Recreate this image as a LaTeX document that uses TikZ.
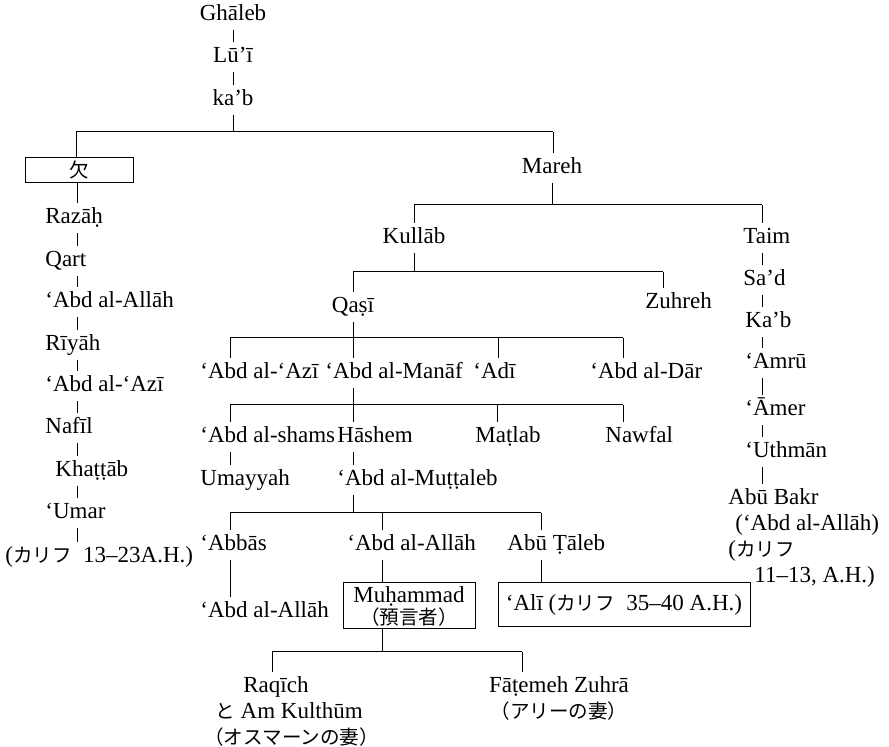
\documentclass[tikz,border=0pt]{standalone}
\usepackage{fontspec}
\setmainfont{Liberation Serif}
\newfontfamily\jpfont{Noto Sans CJK JP}[Scale=0.85]

\begin{document}
\begin{tikzpicture}[x=0.5pt,y=-0.5pt,font=\fontsize{11.5}{13}\selectfont]

\tikzset{person/.style = {inner sep=2pt,text height=8pt,text depth=2.5pt}}
\tikzset{block/.style = {inner sep=2pt,align=left}}
\tikzset{frame/.style = {draw,line width=0.5pt,inner sep=1pt,align=center}}
\tikzset{kin/.style = {line width=0.5pt}}

\useasboundingbox (0,0) rectangle (889,747);

% top of the line
\node[person] (ghaleb) at (233,15) {Ghāleb};
\node[person] (lui) at (233,57) {Lū’ī};
\node[person] (kab) at (233,100) {ka’b};

\draw[kin] (ghaleb) -- (lui);
\draw[kin] (lui) -- (kab);

\coordinate (b1l) at (76,132);
\coordinate (b1r) at (553,132);
\draw[kin] (kab) -- (kab |- b1l);
\draw[kin] (b1l) -- (b1r);

% left branch
\node[frame,minimum width=54pt,minimum height=12.5pt] (qi) at (79,170) {\jpfont 欠};
\coordinate (lc) at (77,0);
\node[person,anchor=west] (razah) at (41,218) {Razāḥ};
\node[person,anchor=west] (qart) at (41,261) {Qart};
\node[person,anchor=west] (abdallah1) at (41,302) {‘Abd al-Allāh};
\node[person,anchor=west] (riyah) at (41,345) {Rīyāh};
\node[person,anchor=west] (abdazi1) at (41,386) {‘Abd al-‘Azī};
\node[person,anchor=west] (nafil) at (41,428) {Nafīl};
\node[person,anchor=west] (khattab) at (51,471) {Khaṭṭāb};
\node[person,anchor=west] (umar) at (41,513) {‘Umar};
\node[person,anchor=west] (caliph1) at (1,557) {({\jpfont カリフ}\enspace 13–23A.H.)};

\draw[kin] (b1l) -- (qi.north -| b1l);
\draw[kin] (qi.south -| lc) -- (razah.north -| lc);
\draw[kin] (razah.south -| lc) -- (qart.north -| lc);
\draw[kin] (qart.south -| lc) -- (abdallah1.north -| lc);
\draw[kin] (abdallah1.south -| lc) -- (riyah.north -| lc);
\draw[kin] (riyah.south -| lc) -- (abdazi1.north -| lc);
\draw[kin] (abdazi1.south -| lc) -- (nafil.north -| lc);
\draw[kin] (nafil.south -| lc) -- (khattab.north -| lc);
\draw[kin] (khattab.south -| lc) -- (umar.north -| lc);
\draw[kin] (umar.south -| lc) -- (caliph1.north -| lc);

% Mareh and his sons
\node[person] (mareh) at (552,168) {Mareh};
\draw[kin] (b1r) -- (mareh.north -| b1r);

\coordinate (b2l) at (414,205);
\coordinate (b2r) at (762,205);
\draw[kin] (mareh) -- (mareh |- b2l);
\draw[kin] (b2l) -- (b2r);

\node[person] (kullab) at (414,238) {Kullāb};
\draw[kin] (b2l) -- (kullab);

% right branch
\coordinate (rc) at (762,0);
\node[person,anchor=west] (taim) at (739,238) {Taim};
\node[person,anchor=west] (sad) at (739,280) {Sa’d};
\node[person,anchor=west] (kab2) at (741,322) {Ka’b};
\node[person,anchor=west] (amru) at (741,363) {‘Amrū};
\node[person,anchor=west] (amer) at (741,410) {‘Āmer};
\node[person,anchor=west] (uthman) at (741,452) {‘Uthmān};
\node[block,anchor=north west] (abubakr) at (724,484)
  {Abū Bakr\\\hspace*{3.5pt}(‘Abd al-Allāh)\\({\jpfont カリフ}\\\hspace*{13pt}11–13, A.H.)};

\draw[kin] (b2r) -- (taim.north -| rc);
\draw[kin] (taim.south -| rc) -- (sad.north -| rc);
\draw[kin] (sad.south -| rc) -- (kab2.north -| rc);
\draw[kin] (kab2.south -| rc) -- (amru.north -| rc);
\draw[kin] (amru.south -| rc) -- (amer.north -| rc);
\draw[kin] (amer.south -| rc) -- (uthman.north -| rc);
\draw[kin] (uthman.south -| rc) -- (abubakr.north -| rc);

% Kullab
\coordinate (b3l) at (353,272);
\coordinate (b3r) at (663,272);
\draw[kin] (kullab) -- (kullab |- b3l);
\draw[kin] (b3l) -- (b3r);

\node[person] (qasi) at (353,307) {Qaṣī};
\node[person,anchor=west] (zuhreh) at (641,303) {Zuhreh};
\draw[kin] (b3l) -- (qasi);
\draw[kin] (b3r) -- (zuhreh.north -| b3r);

% Qasi
\coordinate (b4l) at (230,338);
\coordinate (b4r) at (623,338);
\coordinate (t-adi) at (498,338);
\draw[kin] (b4l) -- (b4r);

\node[person,anchor=west] (abdazi2) at (196,373) {‘Abd al-‘Azī};
\node[person,anchor=west] (abdmanaf) at (321,373) {‘Abd al-Manāf};
\node[person,anchor=west] (adi) at (469,373) {‘Adī};
\node[person,anchor=west] (abddar) at (586,373) {‘Abd al-Dār};

\draw[kin] (qasi) -- (abdmanaf.north -| qasi);
\draw[kin] (b4l) -- (abdazi2.north -| b4l);
\draw[kin] (t-adi) -- (adi.north -| t-adi);
\draw[kin] (b4r) -- (abddar.north -| b4r);

% Abd al-Manaf
\coordinate (b5l) at (230,405);
\coordinate (b5r) at (623,405);
\coordinate (t-mat) at (497,405);
\draw[kin] (b5l) -- (b5r);

\node[person,anchor=west] (abdshams) at (196,437) {‘Abd al-shams};
\node[person,anchor=west] (hashem) at (333,437) {Hāshem};
\node[person,anchor=west] (matlab) at (471,437) {Maṭlab};
\node[person,anchor=west] (nawfal) at (601,437) {Nawfal};

\draw[kin] (abdmanaf.south -| qasi) -- (hashem.north -| qasi);
\draw[kin] (b5l) -- (abdshams.north -| b5l);
\draw[kin] (t-mat) -- (matlab.north -| t-mat);
\draw[kin] (b5r) -- (nawfal.north -| b5r);

\node[person,anchor=west] (umayyah) at (196,480) {Umayyah};
\node[person,anchor=west] (muttaleb) at (333,480) {‘Abd al-Muṭṭaleb};
\draw[kin] (abdshams.south -| b5l) -- (umayyah.north -| b5l);
\draw[kin] (hashem.south -| qasi) -- (muttaleb.north -| qasi);

% Abd al-Muttaleb
\coordinate (b6l) at (230,513);
\coordinate (b6m) at (382,513);
\coordinate (b6r) at (541,513);
\draw[kin] (muttaleb.south -| qasi) -- (qasi |- b6l);
\draw[kin] (b6l) -- (b6r);

\node[person,anchor=west] (abbas) at (196,545) {‘Abbās};
\node[person,anchor=west] (abdallah2) at (343,545) {‘Abd al-Allāh};
\node[person,anchor=west] (abutaleb) at (503,545) {Abū Ṭāleb};
\draw[kin] (b6l) -- (abbas.north -| b6l);
\draw[kin] (b6m) -- (abdallah2.north -| b6m);
\draw[kin] (b6r) -- (abutaleb.north -| b6r);

\node[person,anchor=west] (abdallah3) at (196,612) {‘Abd al-Allāh};
\node[frame,minimum width=66pt,minimum height=23pt] (muhammad) at (409,606)
  {Muḥammad\\[-2pt]{\jpfont （預言者）}};
\node[frame,minimum width=126pt,minimum height=22pt] (ali) at (624,605)
  {‘Alī ({\jpfont カリフ}\enspace 35–40 A.H.)};

\draw[kin] (abbas.south -| b6l) -- (abdallah3.north -| b6l);
\draw[kin] (abdallah2.south -| b6m) -- (muhammad.north -| b6m);
\draw[kin] (abutaleb.south -| b6r) -- (ali.north -| b6r);

% Muhammad
\coordinate (b7l) at (272,652);
\coordinate (b7r) at (522,652);
\draw[kin] (muhammad.south -| b6m) -- (b6m |- b7l);
\draw[kin] (b7l) -- (b7r);

\node[block,anchor=north west] (raqich) at (200,672)
  {\hspace*{19.5pt}Raqīch\\\hspace*{5.5pt}{\jpfont と} Am Kulthūm\\{\jpfont （オスマーンの妻）}};
\node[block,align=center,anchor=north] (fatemeh) at (559,672)
  {Fāṭemeh Zuhrā\\{\jpfont （アリーの妻）}};

\draw[kin] (b7l) -- (raqich.north -| b7l);
\draw[kin] (b7r) -- (fatemeh.north -| b7r);

\end{tikzpicture}
\end{document}
